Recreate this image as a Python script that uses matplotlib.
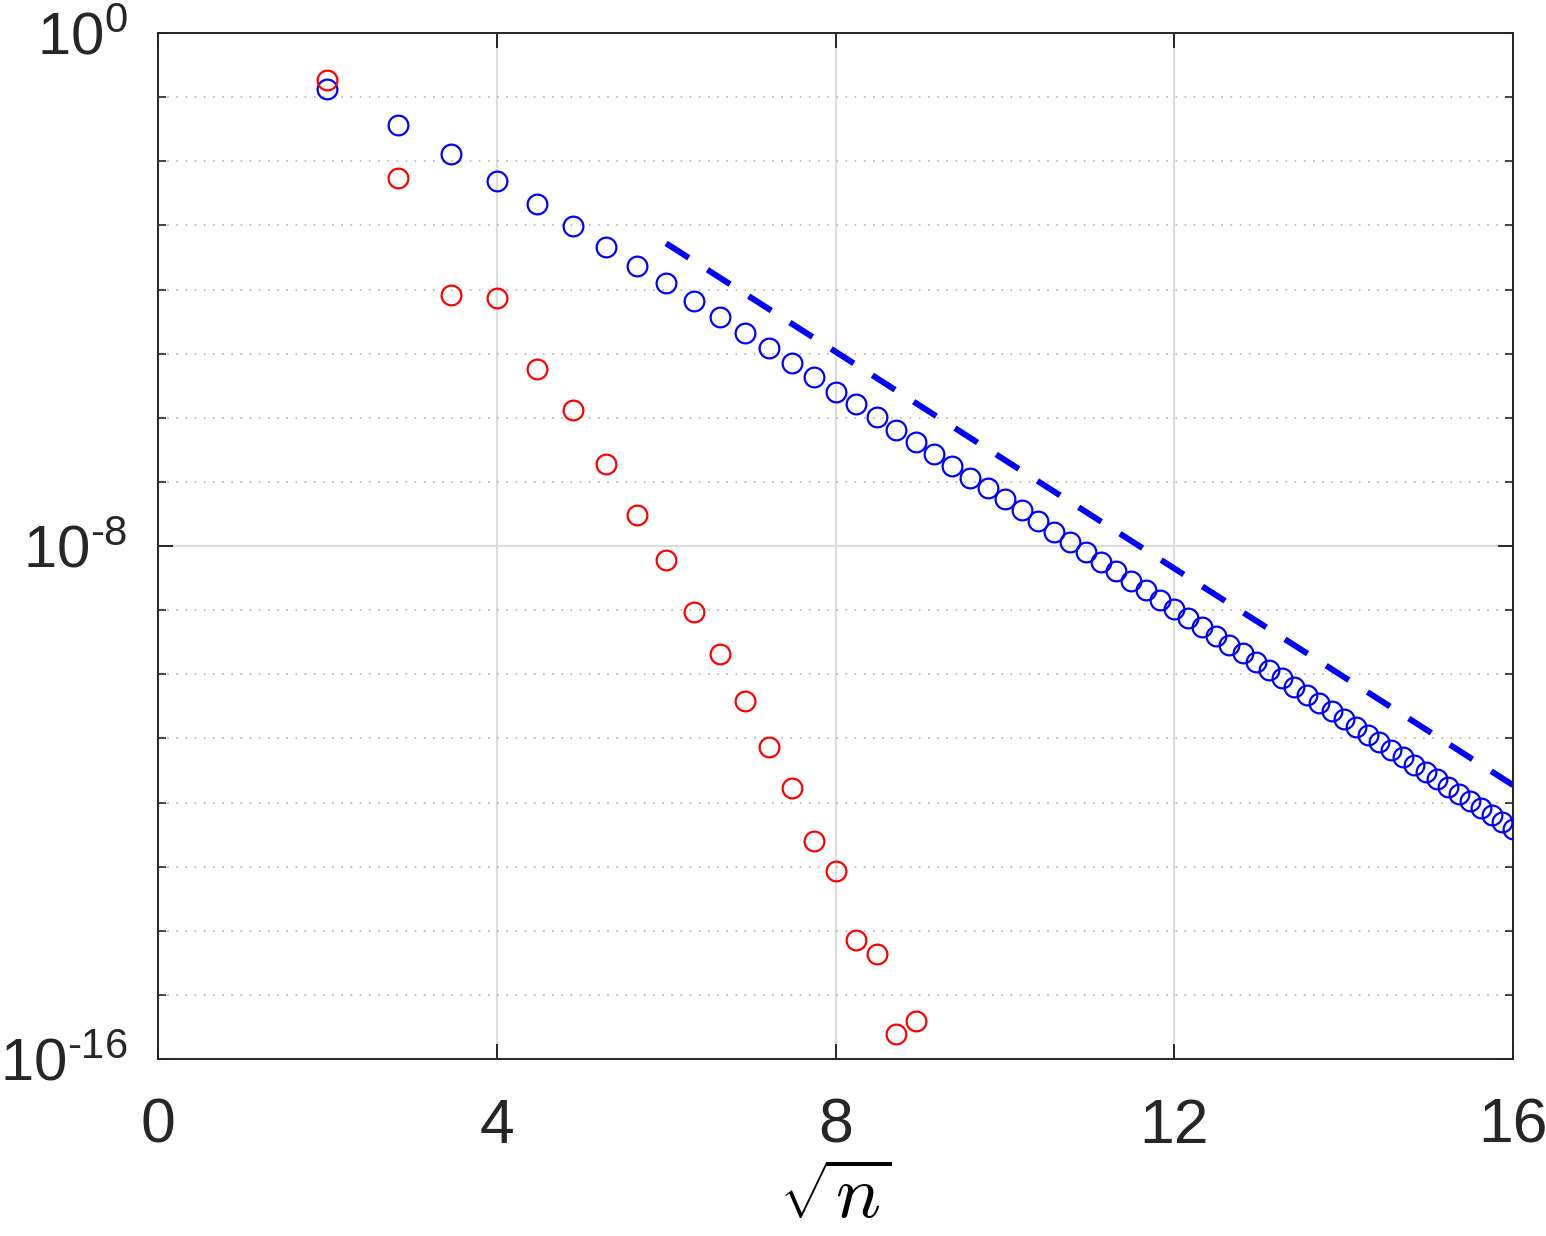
import matplotlib
matplotlib.use("Agg")
import matplotlib.pyplot as plt
import numpy as np
from matplotlib.ticker import FixedLocator, FuncFormatter

# =========================
# Data (log10 of the error)
# =========================
n_blue = [4, 8, 12, 16, 20, 24, 28, 32, 36, 40, 44, 48, 52, 56, 60, 64,
          68, 72, 76, 80, 84, 88, 92, 96, 100, 104, 108, 112, 116, 120, 124, 128,
          132, 136, 140, 144, 148, 152, 156, 160, 164, 168, 172, 176, 180, 184, 188, 192,
          196, 200, 204, 208, 212, 216, 220, 224, 228, 232, 236, 240, 244, 248, 252, 256]
log_blue = [-0.873, -1.430, -1.892, -2.303, -2.671, -3.010, -3.333, -3.629,
            -3.903, -4.176, -4.434, -4.678, -4.917, -5.146, -5.369, -5.591,
            -5.793, -5.988, -6.186, -6.378, -6.565, -6.752, -6.935, -7.100,
            -7.272, -7.439, -7.610, -7.774, -7.933, -8.089, -8.242, -8.390,
            -8.543, -8.691, -8.839, -8.982, -9.123, -9.263, -9.402, -9.538,
            -9.672, -9.806, -9.937, -10.066, -10.196, -10.324, -10.448, -10.573,
            -10.696, -10.818, -10.940, -11.058, -11.177, -11.294, -11.411, -11.526,
            -11.640, -11.754, -11.864, -11.977, -12.086, -12.195, -12.304, -12.412]

n_red = [4, 8, 12, 16, 20, 24, 28, 32, 36, 40,
         44, 48, 52, 56, 60, 64, 68, 72, 76, 80]
log_red = [-0.728, -2.261, -4.086, -4.128, -5.240, -5.879, -6.721, -7.517, -8.218, -9.029,
           -9.684, -10.417, -11.135, -11.774, -12.600, -13.068, -14.144, -14.363, -15.610, -15.407]

# reference slope (dashed)
ref_x = [6, 16]
ref_log = [-3.28, -11.73]

x_ticks = [0, 4, 8, 12, 16]
y_major = [1e-16, 1e-8, 1e0]
y_minor = [10.0**k for k in range(-15, 0) if k != -8]

# =========================
# Style
# =========================
plt.rcParams["font.family"] = ["Liberation Sans", "DejaVu Sans"]
plt.rcParams["mathtext.fontset"] = "custom"
plt.rcParams["mathtext.rm"] = "Liberation Sans"
plt.rcParams["mathtext.it"] = "Liberation Sans:italic"
plt.rcParams["mathtext.bf"] = "Liberation Sans:bold"

axis_col = "#262626"

fig = plt.figure(figsize=(15.46, 12.36), dpi=100)
ax = fig.add_axes([0.1022, 0.1432, 0.8765, 0.8301])

ax.plot(np.sqrt(n_blue), 10.0 ** np.array(log_blue), "o", ms=14.2, mew=1.6,
        mfc="none", mec=(0, 0, 1), zorder=3)
ax.plot(np.sqrt(n_red), 10.0 ** np.array(log_red), "o", ms=14.2, mew=1.6,
        mfc="none", mec=(1, 0, 0), zorder=3)
ax.plot(ref_x, 10.0 ** np.array(ref_log), color=(0, 0, 1), lw=4.3,
        dashes=(4.5, 3.7), dash_capstyle="butt", zorder=2)

ax.set_yscale("log")
ax.set_xlim(0, 16)
ax.set_ylim(1e-16, 1e0)


def ylab(v, p):
    e = int(round(np.log10(v)))
    s = ("\u2010%d" % -e) if e < 0 else "%d" % e
    return r"$\mathdefault{10^{%s}}$" % s


ax.set_xticks(x_ticks)
ax.xaxis.set_major_formatter(FuncFormatter(lambda v, p: "%d" % v))
ax.yaxis.set_major_locator(FixedLocator(y_major))
ax.yaxis.set_minor_locator(FixedLocator(y_minor))
ax.yaxis.set_major_formatter(FuncFormatter(ylab))
ax.yaxis.set_minor_formatter(FuncFormatter(lambda v, p: ""))

ax.tick_params(which="major", direction="in", length=11, width=1.4,
               top=True, right=True, colors=axis_col)
ax.tick_params(which="minor", direction="in", length=5.5, width=1.2,
               top=True, right=True, colors=axis_col)
ax.tick_params(axis="x", pad=27, labelsize=45)
ax.tick_params(axis="y", pad=22, labelsize=43)

ax.grid(which="major", color="#dcdcdc", lw=1.5, zorder=0)
ax.yaxis.grid(which="minor", color="#b4b4b4", lw=1.2, linestyle=(0, (1, 4.5)))
ax.set_axisbelow(True)

for s in ax.spines.values():
    s.set_color(axis_col)
    s.set_linewidth(1.4)

ax.set_xlabel(r"$\sqrt{n}$", fontsize=54, math_fontfamily="cm", labelpad=6,
              color="black")

fig.savefig("out.png", dpi=100)
